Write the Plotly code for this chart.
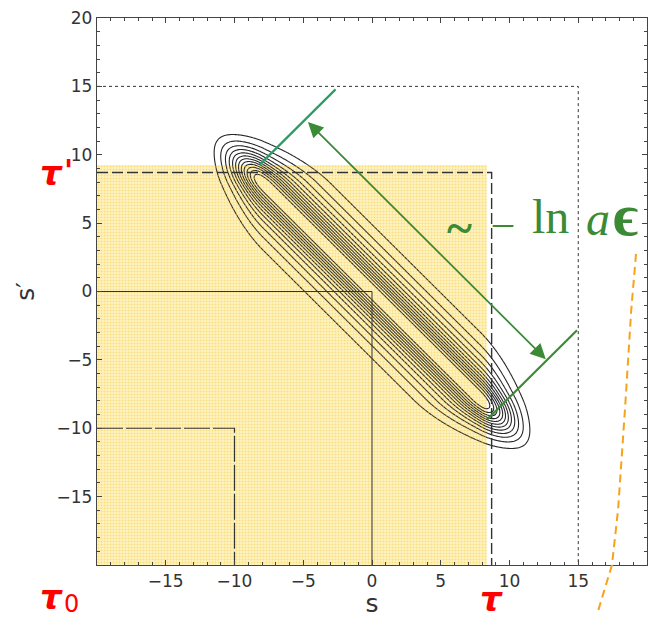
import numpy as np
import plotly.graph_objects as go

# ---- axes -------------------------------------------------------------
X_RANGE = [-20, 20]
Y_RANGE = [-20, 20]
X_TICKS = [-15, -10, -5, 0, 5, 10, 15, 20]
Y_TICKS = [-15, -10, -5, 0, 5, 10, 15, 20]

# ---- corner lines (s = c, s' = c) --------------------------------------
TAU = 8.7          # τ = τ'
T_OUTER = 15.0
T_ZERO = 0.0
TAU_0 = -10.0

# shaded quadrant s < τ, s' < τ'
SHADE_S = [-20.3, 8.35, 8.35, -20.3, -20.3]
SHADE_SP = [-20.3, -20.3, 9.25, 9.25, -20.3]

# ---- correlation-band contour field ------------------------------------
# profile in u = s + s': wide shoulder + narrow ridge; soft cut-off in |s|, |s'|
GRID = np.linspace(-14.5, 14.5, 363)
BROAD_WEIGHT, BROAD_WIDTH = 0.5, 3.8
CORE_WEIGHT, CORE_WIDTH = 0.5, 1.6
EDGE_START = 7.9
EDGE_SCALE = 3.0
LEVEL_START, LEVEL_END, LEVEL_STEP = 0.095, 0.93, 0.075

# ---- green "~ - ln aϵ" marker ------------------------------------------
UPPER_TICK_S = [-8.16, -2.65]
UPPER_TICK_SP = [9.28, 14.78]
LOWER_TICK_S = [8.38, 14.91]
LOWER_TICK_SP = [-9.35, -2.83]
ARROW_FROM = (-4.77, 12.5)
ARROW_TO = (12.64, -4.95)

# ---- orange curve (runs past the frame) ---------------------------------
ORANGE_S = [19.2, 18.85, 18.4, 17.9, 17.45, 16.4]
ORANGE_SP = [2.75, -1.38, -8.6, -15.9, -20.0, -23.5]

S, SP = np.meshgrid(GRID, GRID)


def profile(x):
    return (BROAD_WEIGHT * np.exp(-(x / BROAD_WIDTH) ** 2)
            + CORE_WEIGHT * np.exp(-(x / CORE_WIDTH) ** 2))


def cutoff(x):
    over = np.clip(np.abs(x) - EDGE_START, 0, None) / EDGE_SCALE
    return np.exp(-over ** 2)


field = np.round(profile(S + SP) * cutoff(S) * cutoff(SP), 5)

INK = "#333333"
GREEN = "#3B8A35"
TEAL = "#2E9A68"
RED = "#FF0000"

fig = go.Figure()

# pale yellow ground under everything, gold dot texture laid over it
fig.add_shape(type="rect", xref="x", yref="y",
              x0=SHADE_S[0], x1=SHADE_S[1], y0=SHADE_SP[0], y1=SHADE_SP[2],
              fillcolor="#FFF3C2", line=dict(width=0), layer="below")
fig.add_trace(go.Scatter(
    x=SHADE_S, y=SHADE_SP, mode="lines", fill="toself",
    line=dict(width=0), fillcolor="rgba(0,0,0,0)",
    fillpattern=dict(shape=".", size=3, solidity=0.35,
                     fgcolor="#F0C838", bgcolor="rgba(0,0,0,0)", fillmode="overlay"),
    hoverinfo="skip", showlegend=False))

fig.add_trace(go.Contour(
    x=GRID, y=GRID, z=field, showscale=False,
    contours=dict(coloring="none", start=LEVEL_START, end=LEVEL_END, size=LEVEL_STEP),
    line=dict(color="#262626", width=1.1), hoverinfo="skip"))


def corner(c, dash, width):
    fig.add_trace(go.Scatter(
        x=[X_RANGE[0], c, c], y=[c, c, Y_RANGE[0]], mode="lines",
        line=dict(color=INK, width=width, dash=dash),
        hoverinfo="skip", showlegend=False))


corner(T_OUTER, "3px,3px", 1.0)
corner(TAU, "11px,4px", 1.4)
corner(T_ZERO, "solid", 1.0)
corner(TAU_0, "26px,3px", 1.2)

fig.add_trace(go.Scatter(x=UPPER_TICK_S, y=UPPER_TICK_SP, mode="lines",
                         line=dict(color=TEAL, width=2.2), hoverinfo="skip", showlegend=False))
fig.add_trace(go.Scatter(x=LOWER_TICK_S, y=LOWER_TICK_SP, mode="lines",
                         line=dict(color=GREEN, width=2.2), hoverinfo="skip", showlegend=False))

fig.add_annotation(x=ARROW_TO[0], y=ARROW_TO[1], ax=ARROW_FROM[0], ay=ARROW_FROM[1],
                   xref="x", yref="y", axref="x", ayref="y", text="",
                   showarrow=True, arrowhead=2, startarrowhead=2, arrowside="end+start",
                   arrowsize=1.7, startarrowsize=1.7, arrowwidth=1.8, arrowcolor=GREEN,
                   standoff=0, startstandoff=0)

serif = "Liberation Serif"
green_text = [
    (6.35, 4.7, "<b>~</b>", 48),
    (9.5, 5.1, "–", 40),
    (12.95, 5.5, "ln", 48),
    (16.4, 5.35, "<i>a</i>", 48),
    (18.45, 5.6, "<b>ϵ</b>", 60),
]
for gx, gy, txt, size in green_text:
    fig.add_annotation(x=gx, y=gy, xref="x", yref="y", text=txt, showarrow=False,
                       xanchor="center", yanchor="middle",
                       font=dict(family=serif, size=size, color=GREEN))

# red time labels
red_text = [
    (-0.082, TAU, "paper", "y", "<b><i>τ</i></b>", 34),
    (-0.051, TAU + 0.15, "paper", "y", "<b>'</b>", 30),
    (-0.082, -0.058, "paper", "paper", "<b><i>τ</i></b>", 34),
    (-0.046, -0.072, "paper", "paper", "0", 24),
    (TAU, -0.062, "x", "paper", "<b><i>τ</i></b>", 34),
]
for rx, ry, xr, yr, txt, size in red_text:
    fig.add_annotation(x=rx, y=ry, xref=xr, yref=yr, text=txt, showarrow=False,
                       xanchor="center", yanchor="middle",
                       font=dict(family="DejaVu Sans", size=size, color=RED))


# orange dashed curve, drawn in paper units so it may leave the frame
def frac(val, rng):
    return (val - rng[0]) / (rng[1] - rng[0])


pts = [(frac(a, X_RANGE), frac(b, Y_RANGE)) for a, b in zip(ORANGE_S, ORANGE_SP)]
path = "M " + " L ".join(f"{a:.4f},{b:.4f}" for a, b in pts)
fig.add_shape(type="path", path=path, xref="paper", yref="paper",
              line=dict(color="#F7A21B", width=2, dash="8px,5px"))

axis_common = dict(
    showgrid=False, zeroline=False, showline=True, linecolor="#444", linewidth=1.3,
    mirror="allticks", ticks="inside", ticklen=5, tickwidth=1, tickcolor="#444",
    tickfont=dict(family="DejaVu Sans", size=17, color=INK),
    minor=dict(tickmode="linear", tick0=0, dtick=1, ticks="inside", ticklen=2.5,
               tickcolor="#444", tickwidth=1),
    layer="above traces",
)

fig.update_xaxes(range=X_RANGE, tickmode="array", tickvals=X_TICKS,
                 title=dict(text="s", font=dict(family="DejaVu Sans", size=25, color=INK), standoff=2),
                 **axis_common)
fig.update_yaxes(range=Y_RANGE, tickmode="array", tickvals=Y_TICKS,
                 title=dict(text="s′", font=dict(family="DejaVu Sans", size=25, color=INK), standoff=14),
                 **axis_common)

fig.update_layout(width=656, height=618, margin=dict(l=97, r=8, t=15, b=51),
                  plot_bgcolor="white", paper_bgcolor="white", showlegend=False)

fig.write_html("out.html")
